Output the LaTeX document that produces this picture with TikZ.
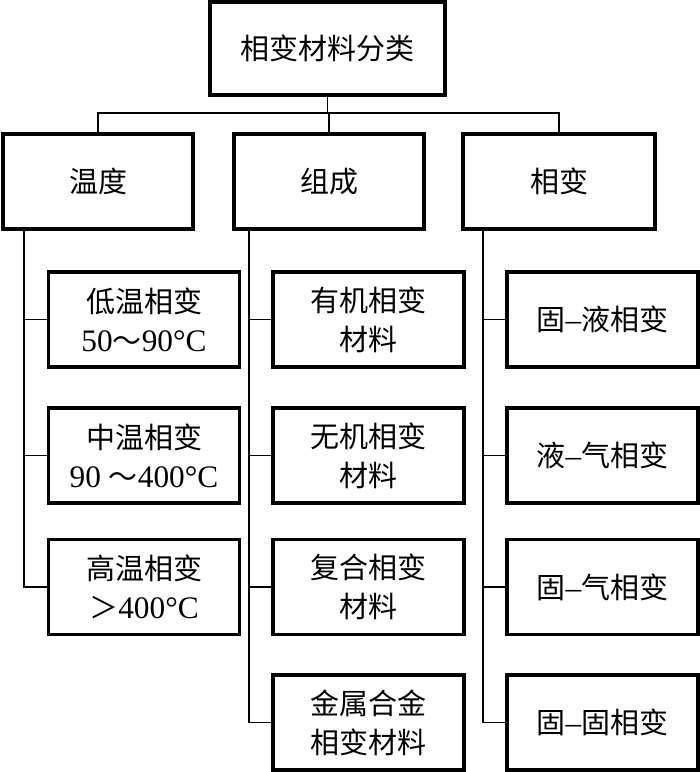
\documentclass[tikz,border=0pt]{standalone}
\usepackage{fontspec}
\newfontfamily\cjk{Noto Sans CJK SC}
\newfontfamily\lat[Scale=1.08]{Liberation Serif}
\begin{document}
\begin{tikzpicture}[x=1pt,y=-1pt,
  box/.style={draw=black,line width=3.4pt,rectangle,inner sep=0pt,align=center,
    font=\cjk\fontsize{29}{39}\selectfont},
  topbox/.style={box,minimum width=235pt,minimum height=93pt},
  midbox/.style={box,minimum width=190pt,minimum height=95pt},
  leafbox/.style={box,minimum width=191pt,minimum height=95pt},
  conn/.style={draw=black,line width=1.7pt}]
\useasboundingbox (0,0) rectangle (700,772);
\node[topbox] (top) at (327.5,48.5) {相变材料分类};
\node[midbox] (wd) at (98,181.5) {温度};
\node[midbox] (zc) at (329,181.5) {组成};
\node[midbox,minimum width=192pt] (xb) at (559,181.5) {相变};
% temperature
\node[leafbox] (l1) at (144,319.5) {低温相变\\{\lat 50}～{\lat 90°C}};
\node[leafbox] (l2) at (144,455.5) {中温相变\\{\lat 90 }～{\lat 400°C}};
\node[leafbox] (l3) at (144,587) {高温相变\\＞{\lat 400°C}};
% composition
\node[leafbox] (m1) at (368.5,319.5) {有机相变\\材料};
\node[leafbox] (m2) at (368.5,455.5) {无机相变\\材料};
\node[leafbox] (m3) at (368.5,587) {复合相变\\材料};
\node[leafbox] (m4) at (368.5,722.5) {金属合金\\相变材料};
% phase
\node[leafbox] (r1) at (602.5,319.5) {固{\lat –}液相变};
\node[leafbox] (r2) at (602.5,455.5) {液{\lat –}气相变};
\node[leafbox] (r3) at (602.5,587) {固{\lat –}气相变};
\node[leafbox] (r4) at (602.5,722.5) {固{\lat –}固相变};
% top connectors
\coordinate (bus) at (0,113);
\draw[conn] (top.south) -- (top.south |- bus);
\draw[conn] (wd.north) -- (wd.north |- bus) -- (xb.north |- bus) -- (xb.north);
\draw[conn] (zc.north) -- (zc.north |- bus);
% spines
\coordinate (sL) at (24,0);
\coordinate (sM) at (249,0);
\coordinate (sR) at (483,0);
\draw[conn] (sL |- wd.south) -- (sL |- l3.west) -- (l3.west);
\draw[conn] (sL |- l1.west) -- (l1.west);
\draw[conn] (sL |- l2.west) -- (l2.west);
\draw[conn] (sM |- zc.south) -- (sM |- m4.west) -- (m4.west);
\draw[conn] (sM |- m1.west) -- (m1.west);
\draw[conn] (sM |- m2.west) -- (m2.west);
\draw[conn] (sM |- m3.west) -- (m3.west);
\draw[conn] (sR |- xb.south) -- (sR |- r4.west) -- (r4.west);
\draw[conn] (sR |- r1.west) -- (r1.west);
\draw[conn] (sR |- r2.west) -- (r2.west);
\draw[conn] (sR |- r3.west) -- (r3.west);
\end{tikzpicture}
\end{document}
